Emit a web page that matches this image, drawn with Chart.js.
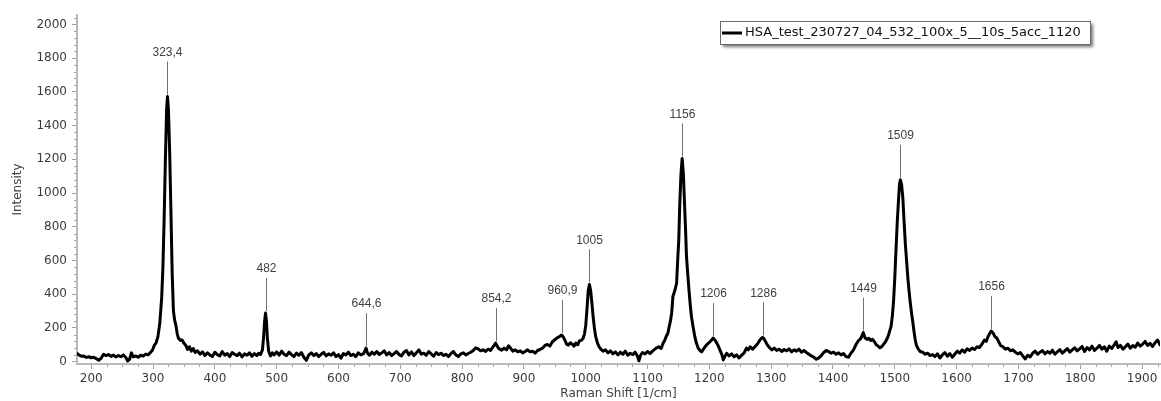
<!DOCTYPE html>
<html>
<head>
<meta charset="utf-8">
<script src="https://cdn.jsdelivr.net/npm/chart.js@4.4.0/dist/chart.umd.min.js"></script>
<style>
html,body{margin:0;padding:0;background:#ffffff;}
#wrap{width:1161px;height:401px;position:relative;}
</style>
</head>
<body>
<div id="wrap"><canvas id="c"></canvas></div>
<script>
const seriesName = "HSA_test_230727_04_532_100x_5__10s_5acc_1120";
const xTitle = "Raman Shift [1/cm]";
const yTitle = "Intensity";

const shift = [
177,180,184,188,192,196,200,204,208,212,
216,220,224,228,232,236,240,244,248,252,
256,259,262,265,268,272,276,280,284,288,
292,296,299,302,305,308,311,314,316,318,
320,322,323.4,325,327,329,331,333,335,337,
339,341,344,347,350,353,356,359,362,365,
368,372,376,380,384,388,392,396,400,404,
408,412,416,420,424,428,432,436,440,444,
448,452,456,460,464,468,471,474,477,479,
480.5,482,483.5,485,487,490,493,496,500,504,
508,512,516,520,524,528,532,536,540,544,
548,552,556,560,564,568,572,576,580,584,
588,592,596,600,604,608,612,616,620,624,
628,632,636,640,642.5,644.6,647,650,654,658,
662,666,670,674,678,682,686,690,694,698,
702,706,710,714,718,722,726,730,734,738,
742,746,750,754,758,762,766,770,774,778,
782,786,790,794,798,802,806,810,814,818,
822,826,830,834,838,842,846,850,852,854.2,
857,860,864,868,872,875,878,882,886,890,
894,898,902,906,910,914,918,922,926,930,
934,938,942,946,950,954,958,960.9,963,966,
969,972,975,978,981,984,987,990,993,996,
998,1000,1002,1004,1006,1008,1010,1012,1014,1016,
1019,1022,1025,1028,1032,1036,1040,1044,1048,1052,
1056,1060,1064,1068,1072,1076,1080,1084,1086,1089,
1092,1096,1100,1104,1108,1111,
1114,1118,1122,1125,1128,1130,1133,1135,1137,1139,
1141,1144,1147,1149,1150.5,1152,1154,1156,1158,1160,
1161.5,1163,1165,1167,1169,1171,1174,1176.5,1179,1182,
1185,1187.5,1190,1193,1195.5,1198,1201,1203.5,1206,1209,
1212,1214,1217,1220,1222.5,1225,1228,1232,1236,1240,
1244,1248,1252,1256,1260,1263,1266,1270,1274,1278,
1281,1284,1286,1288,1291,1294,1297,1301,1305,1309,
1313,1317,1321,1325,1329,1333,1337,1341,1345,1349,
1353,1357,1361,1365,1369,1373,1377,1381,1385,1389,
1393,1397,1401,1405,1409,1413,1417,1421,1425,1429,
1433,1437,1441,1445,1449,1452,1455,1458,1461,1464,
1467,1470,1473,1476,1479,1482,1485,1488,1490,1492,
1494,1496,1498,1500,1502,1504,1506,1507.5,1509,1511,
1513,1515,1517,1519,1521,1523,1525,1527,1529,1531,
1533,1535,1538,1541,1545,1549,1553,1557,1561,1565,
1569,1573,1577,1581,1585,1589,1593,1597,1601,1605,
1609,1613,1617,1621,1625,1629,1633,1637,1641,1645,
1648,1651,1654,1656,1659,1662,1665,1668,1671,1675,
1679,1683,1687,1691,1695,1699,1703,1707,1711,1715,
1719,1723,1727,1731,1735,1739,1743,1747,1751,1755,
1759,1763,1767,1771,1775,1779,1783,1787,1791,1795,
1799,1803,1807,1811,1815,1819,1823,1827,1831,1835,
1839,1843,1847,1851,1855,1858,1861,1865,1869,1873,
1877,1881,1885,1889,1893,1897,1901,1905,1909,1913,
1917,1921,1925,1929
];

const intensity = [
48,40,32,34,25,29,23,26,18,8,
20,44,36,42,31,39,27,36,29,40,
24,4,14,52,28,34,26,38,33,45,
40,55,68,96,112,150,230,380,560,850,
1200,1500,1572,1490,1230,880,520,300,245,215,
168,140,126,128,110,96,72,88,62,78,
55,64,44,58,36,52,40,30,56,42,
34,60,38,48,30,54,44,36,50,28,
46,38,52,32,48,36,50,42,70,150,
240,288,240,140,62,34,52,40,58,38,
62,44,36,56,42,30,50,38,54,26,
8,40,52,36,48,30,44,55,34,46,
38,52,30,42,20,48,40,56,36,44,
30,52,40,46,62,80,50,38,56,44,
60,42,52,64,40,54,36,48,60,42,
34,56,66,40,58,36,52,70,44,50,
38,60,46,32,54,42,50,36,44,30,
48,60,40,30,46,52,40,48,56,66,
82,76,64,70,60,74,66,88,98,110,
90,76,68,80,70,94,82,62,70,58,
64,52,60,70,58,62,50,66,72,80,
96,102,92,118,130,142,150,158,150,130,
104,98,112,104,92,110,100,124,126,140,
165,215,310,420,458,420,345,265,200,150,
110,86,72,62,70,52,64,46,58,40,
56,44,62,38,50,42,56,30,5,40,
54,46,60,48,62,72,
80,88,78,108,128,148,170,208,240,289,
386,420,465,620,720,919,1110,1205,1110,919,
780,623,520,425,340,267,200,148,110,79,
66,58,72,88,99,108,118,128,140,128,
110,96,70,44,10,30,50,34,46,28,
40,22,38,50,80,70,88,74,90,106,
124,138,144,138,118,98,84,70,80,66,
74,60,72,64,76,58,70,62,74,56,
66,54,44,34,26,14,22,36,54,66,
60,50,56,44,52,40,48,30,26,50,
68,100,124,138,172,140,132,138,126,132,
118,100,92,82,90,104,118,140,160,185,
210,270,360,500,670,830,960,1050,1078,1050,
970,830,700,600,500,420,350,290,238,180,
130,96,74,60,56,44,50,36,42,30,
46,22,40,54,32,48,26,44,62,50,
70,56,76,66,80,72,88,84,104,128,
120,150,170,182,170,148,140,118,96,88,
74,80,64,70,56,46,54,34,16,38,
28,50,62,44,56,66,46,60,50,68,
44,58,72,50,64,78,56,70,82,64,
76,90,60,84,70,92,66,80,96,74,
88,62,92,78,100,118,84,96,74,88,
104,80,96,86,110,92,104,120,96,108,
90,112,128,100
];

const peakShift = [323.4, 482, 644.6, 854.2, 960.9, 1005, 1156, 1206, 1286, 1449, 1509, 1656];
const peakLabel = ["323,4", "482", "644,6", "854,2", "960,9", "1005", "1156", "1206", "1286", "1449", "1509", "1656"];

const xMin = 177, xMax = 1929, xStep = 100, xMinor = 25;
const yMin = -14, yMax = 2056, yStep = 200, yMinor = 40;

const AXIS = '#b9b9b9';
const TICK = '#a0a0a0';
const LABEL = '#3a3a3a';

const minorTicks = {
  id: 'minorTicks',
  afterDraw(chart) {
    const {ctx, chartArea, scales: {x, y}} = chart;
    ctx.save();
    ctx.strokeStyle = TICK;
    ctx.lineWidth = 1;
    ctx.beginPath();
    for (let v = Math.ceil(xMin / xMinor) * xMinor; v <= xMax; v += xMinor) {
      if (v % xStep === 0) continue;
      const px = Math.round(x.getPixelForValue(v)) + 0.5;
      ctx.moveTo(px, chartArea.bottom + 1);
      ctx.lineTo(px, chartArea.bottom + 3);
    }
    for (let v = Math.ceil(yMin / yMinor) * yMinor; v <= yMax; v += yMinor) {
      if (v % yStep === 0) continue;
      const py = Math.round(y.getPixelForValue(v)) + 0.5;
      ctx.moveTo(chartArea.left - 1, py);
      ctx.lineTo(chartArea.left - 3, py);
    }
    ctx.stroke();
    ctx.restore();
  }
};

const peakMarks = {
  id: 'peakMarks',
  afterDatasetsDraw(chart) {
    const {ctx, scales: {x, y}} = chart;
    ctx.save();
    peakShift.forEach((p, i) => {
      let best = -Infinity;
      shift.forEach((s, j) => { if (Math.abs(s - p) <= 3 && intensity[j] > best) best = intensity[j]; });
      const px = Math.round(x.getPixelForValue(p)) + 0.5;
      const py = y.getPixelForValue(best);
      ctx.strokeStyle = '#707070';
      ctx.lineWidth = 1;
      ctx.beginPath();
      ctx.moveTo(px, py - 2);
      ctx.lineTo(px, py - 35);
      ctx.stroke();
      ctx.fillStyle = '#404040';
      ctx.font = '12px "Liberation Sans", Arial, sans-serif';
      ctx.textAlign = 'center';
      ctx.textBaseline = 'middle';
      ctx.fillText(peakLabel[i], px, py - 44);
    });
    ctx.restore();
  }
};

const legendBox = {
  id: 'legendBox',
  afterDraw(chart) {
    const ctx = chart.ctx;
    const bx = 720, by = 21, bw = 370, bh = 23;
    ctx.save();
    ctx.shadowColor = 'rgba(0,0,0,0.55)';
    ctx.shadowOffsetX = 3;
    ctx.shadowOffsetY = 3;
    ctx.shadowBlur = 3;
    ctx.fillStyle = '#ffffff';
    ctx.fillRect(bx, by, bw, bh);
    ctx.restore();
    ctx.save();
    ctx.strokeStyle = '#6a6a6a';
    ctx.lineWidth = 1;
    ctx.strokeRect(bx + 0.5, by + 0.5, bw, bh);
    ctx.strokeStyle = '#000';
    ctx.lineWidth = 3;
    ctx.beginPath();
    ctx.moveTo(bx + 2, by + 12);
    ctx.lineTo(bx + 22, by + 12);
    ctx.stroke();
    ctx.fillStyle = '#111';
    ctx.font = '13px "DejaVu Sans", sans-serif';
    ctx.textAlign = 'left';
    ctx.textBaseline = 'middle';
    ctx.fillText(seriesName, bx + 25, by + 12);
    ctx.restore();
  }
};

new Chart(document.getElementById('c'), {
  type: 'line',
  data: {
    datasets: [{
      label: seriesName,
      data: shift.map((s, i) => ({x: s, y: intensity[i]})),
      borderColor: '#000000',
      borderWidth: 3,
      pointRadius: 0,
      tension: 0,
      fill: false,
      borderJoinStyle: 'round',
      borderCapStyle: 'round'
    }]
  },
  options: {
    responsive: true,
    maintainAspectRatio: false,
    animation: false,
    layout: {padding: {top: 15, right: 1, left: 0, bottom: 0}},
    plugins: {legend: {display: false}, tooltip: {enabled: false}},
    scales: {
      x: {
        type: 'linear',
        min: xMin, max: xMax,
        afterFit(s) { s.height = 37; },
        ticks: {
          stepSize: xStep, includeBounds: false, autoSkip: false, maxRotation: 0,
          padding: 3, color: LABEL,
          font: {family: 'DejaVu Sans', size: 12},
          callback: v => String(v)
        },
        grid: {display: true, drawOnChartArea: false, tickLength: 5, tickColor: TICK, tickWidth: 1},
        border: {color: AXIS, width: 2},
        title: {display: true, text: xTitle, color: '#404040', font: {family: 'DejaVu Sans', size: 12}, padding: {top: 0, bottom: 0}}
      },
      y: {
        type: 'linear',
        min: yMin, max: yMax,
        afterFit(s) { s.width = 77; },
        ticks: {
          stepSize: yStep, includeBounds: false, autoSkip: false,
          padding: 5, color: LABEL,
          font: {family: 'DejaVu Sans', size: 12},
          callback: v => String(v)
        },
        grid: {display: true, drawOnChartArea: false, tickLength: 5, tickColor: TICK, tickWidth: 1},
        border: {color: AXIS, width: 2},
        title: {display: true, text: yTitle, color: '#404040', font: {family: 'DejaVu Sans', size: 12}, padding: {top: 11, bottom: 0}}
      }
    }
  },
  plugins: [minorTicks, peakMarks, legendBox]
});
</script>
</body>
</html>
